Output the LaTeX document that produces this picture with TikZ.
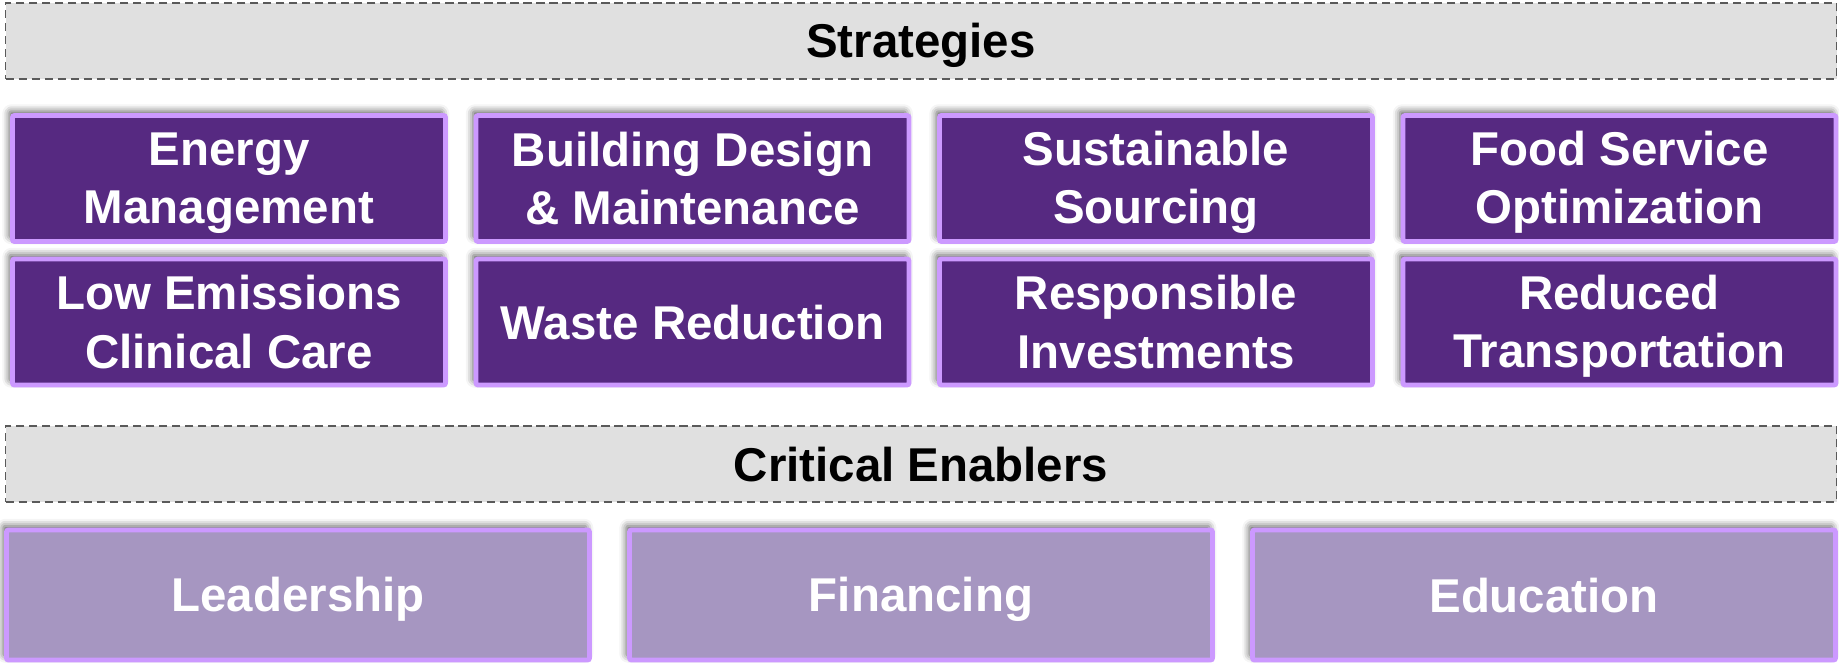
\documentclass[tikz,border=0pt]{standalone}
\usepackage{fontspec}
\setmainfont{Liberation Sans}
\usetikzlibrary{shadows.blur}

\definecolor{stratfill}{RGB}{86,41,129}
\definecolor{boxedge}{RGB}{204,153,255}
\definecolor{enabfill}{RGB}{166,150,193}
\definecolor{barfill}{RGB}{224,224,224}
\definecolor{bardash}{RGB}{90,90,90}

% strut that centres the capitals in a line
\newcommand\capstrut{\vrule height 12pt depth 2.33pt width 0pt}

\tikzset{
  every node/.style={font=\fontsize{13.5}{16.6}\selectfont\bfseries, align=center, inner sep=0pt,
    execute at end node=\capstrut},
  header/.style={draw=bardash, fill=barfill, dash pattern=on 2.3pt off 1.4pt, line width=0.45pt,
    minimum width=18.31cm, minimum height=0.76cm, text=black},
  tile/.style={draw=boxedge, line width=1.4pt, rounded corners=0.6pt, text=white,
    blur shadow={shadow xshift=-0.9pt, shadow yshift=1.2pt, shadow blur radius=2pt, shadow opacity=65}},
  strategy/.style={tile, fill=stratfill, minimum width=4.33cm, minimum height=1.26cm},
  enabler/.style={tile, fill=enabfill, minimum width=5.83cm, minimum height=1.30cm}
}

\begin{document}
\begin{tikzpicture}

\useasboundingbox (0,0) rectangle (18.39,-6.63);

% Headers
\node[header] (strat) at (9.21,-0.41) {Strategies};
\node[header] (crit) at (9.21,-4.64) {Critical Enablers};

% Strategies, first row
\foreach \txt [count=\i from 0] in {{Energy\\Management},{Building Design\\\& Maintenance},{Sustainable\\Sourcing},{Food Service\\Optimization}}
  \node[strategy] (topbox\i) at (2.29+4.635*\i,-1.785) {\capstrut\txt};

% Strategies, second row
\foreach \txt [count=\i from 0] in {{Low Emissions\\Clinical Care},{Waste Reduction},{Responsible\\Investments},{Reduced\\Transportation}}
  \node[strategy] (lowbox\i) at (2.29+4.635*\i,-3.22) {\capstrut\txt};

% Enablers
\foreach \txt [count=\i from 0] in {Leadership,Financing,Education}
  \node[enabler] (enab\i) at (2.98+6.23*\i,-5.95) {\txt};

\end{tikzpicture}
\end{document}
